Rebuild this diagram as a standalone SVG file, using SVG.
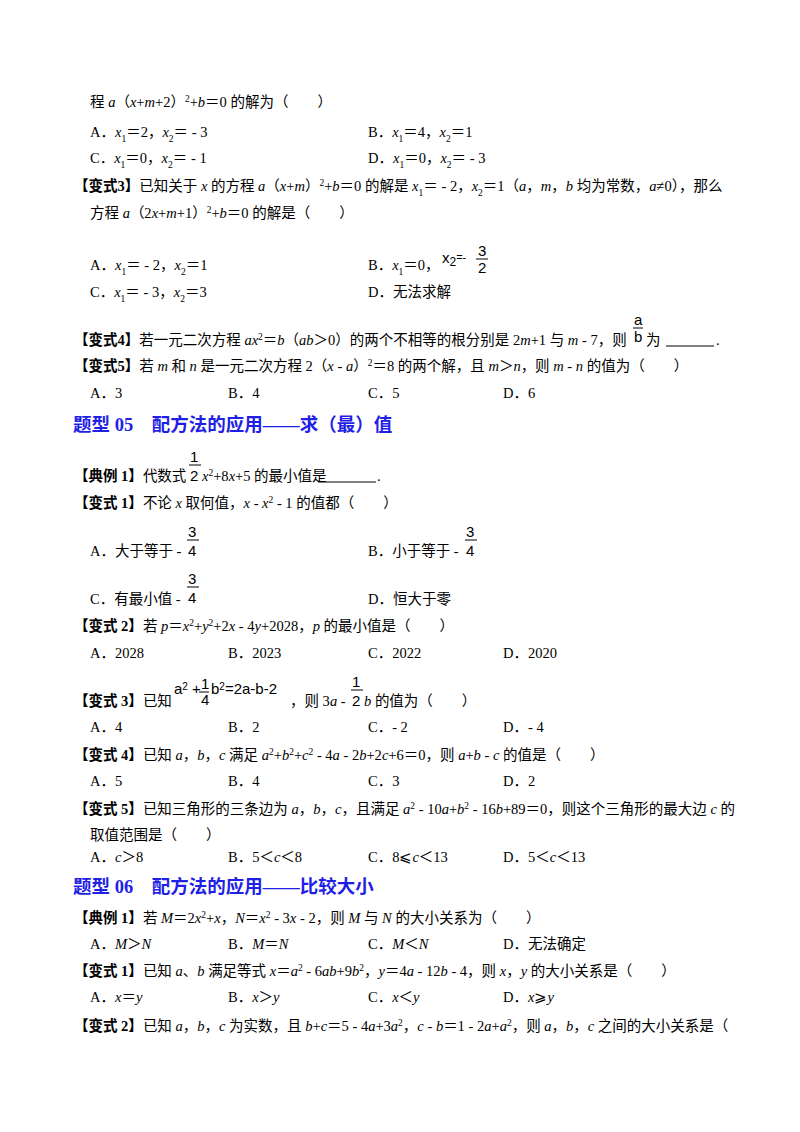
<svg xmlns="http://www.w3.org/2000/svg" width="800" height="1132" viewBox="0 0 800 1132">
<style>
text{font-family:"Liberation Serif","Noto Sans CJK SC",serif;font-size:14.5px;fill:#000}
.b{font-weight:bold}
.i{font-style:italic}
.sp{baseline-shift:super;font-size:9.5px}
.sb{baseline-shift:sub;font-size:9.5px}
.h{font-size:18.5px;font-weight:bold;fill:#1f1fe6}
.f{font-family:"Liberation Sans",sans-serif;font-size:15px}
.fl{stroke:#000;stroke-width:1}
</style>
<rect width="800" height="1132" fill="#fff"/>
<text x="90" y="107">程 <tspan class="i">a</tspan>（<tspan class="i">x</tspan>+<tspan class="i">m</tspan>+2）<tspan class="sp">2</tspan>+<tspan class="i">b</tspan>＝0 的解为（　　）</text>
<text x="90" y="137">A．<tspan class="i">x</tspan><tspan class="sb">1</tspan>＝2，<tspan class="i">x</tspan><tspan class="sb">2</tspan>＝ - 3</text>
<text x="368" y="137">B．<tspan class="i">x</tspan><tspan class="sb">1</tspan>＝4，<tspan class="i">x</tspan><tspan class="sb">2</tspan>＝1</text>
<text x="90" y="163">C．<tspan class="i">x</tspan><tspan class="sb">1</tspan>＝0，<tspan class="i">x</tspan><tspan class="sb">2</tspan>＝ - 1</text>
<text x="368" y="163">D．<tspan class="i">x</tspan><tspan class="sb">1</tspan>＝0，<tspan class="i">x</tspan><tspan class="sb">2</tspan>＝ - 3</text>
<text x="74" y="191"><tspan class="b">【变式3】</tspan>已知关于 <tspan class="i">x</tspan> 的方程 <tspan class="i">a</tspan>（<tspan class="i">x</tspan>+<tspan class="i">m</tspan>）<tspan class="sp">2</tspan>+<tspan class="i">b</tspan>＝0 的解是 <tspan class="i">x</tspan><tspan class="sb">1</tspan>＝ - 2，<tspan class="i">x</tspan><tspan class="sb">2</tspan>＝1（<tspan class="i">a</tspan>，<tspan class="i">m</tspan>，<tspan class="i">b</tspan> 均为常数，<tspan class="i">a</tspan>≠0），那么</text>
<text x="90" y="218">方程 <tspan class="i">a</tspan>（2<tspan class="i">x</tspan>+<tspan class="i">m</tspan>+1）<tspan class="sp">2</tspan>+<tspan class="i">b</tspan>＝0 的解是（　　）</text>
<text x="90" y="270">A．<tspan class="i">x</tspan><tspan class="sb">1</tspan>＝ - 2，<tspan class="i">x</tspan><tspan class="sb">2</tspan>＝1</text>
<text x="368" y="270">B．<tspan class="i">x</tspan><tspan class="sb">1</tspan>＝0，</text>
<text class="f" x="442" y="263" font-size="14">x<tspan font-size="12" dy="3">2</tspan><tspan dy="-5" font-size="11">=-</tspan></text>
<text class="f" x="478" y="256">3</text><line class="fl" x1="476" y1="259" x2="488" y2="259"/><text class="f" x="478" y="273">2</text>
<text x="90" y="297">C．<tspan class="i">x</tspan><tspan class="sb">1</tspan>＝ - 3，<tspan class="i">x</tspan><tspan class="sb">2</tspan>＝3</text>
<text x="368" y="297">D．无法求解</text>
<text x="74" y="345"><tspan class="b">【变式4】</tspan>若一元二次方程 <tspan class="i">ax</tspan><tspan class="sp">2</tspan>＝<tspan class="i">b</tspan>（<tspan class="i">ab</tspan>＞0）的两个不相等的根分别是 2<tspan class="i">m</tspan>+1 与 <tspan class="i">m</tspan> - 7，则</text>
<text class="f" x="634" y="325" font-size="12">a</text><line class="fl" x1="633" y1="328" x2="643" y2="328"/><text class="f" x="634" y="342" font-size="12">b</text>
<text x="646" y="345">为</text><line class="fl" x1="666" y1="346" x2="714" y2="346"/><text x="716" y="345">.</text>
<text x="74" y="371"><tspan class="b">【变式5】</tspan>若 <tspan class="i">m</tspan> 和 <tspan class="i">n</tspan> 是一元二次方程 2（<tspan class="i">x</tspan> - <tspan class="i">a</tspan>）<tspan class="sp">2</tspan>＝8 的两个解，且 <tspan class="i">m</tspan>＞<tspan class="i">n</tspan>，则 <tspan class="i">m</tspan> - <tspan class="i">n</tspan> 的值为（　　）</text>
<text x="90" y="398">A．3</text><text x="228" y="398">B．4</text><text x="368" y="398">C．5</text><text x="503" y="398">D．6</text>
<text class="h" x="73" y="431">题型 05　配方法的应用——求（最）值</text>
<text x="74" y="481"><tspan class="b">【典例 1】</tspan>代数式</text>
<text class="f" x="190" y="462">1</text><line class="fl" x1="189" y1="465" x2="201" y2="465"/><text class="f" x="190" y="481">2</text>
<text x="202" y="481"><tspan class="i">x</tspan><tspan class="sp">2</tspan>+8<tspan class="i">x</tspan>+5 的最小值是</text><line class="fl" x1="318" y1="482" x2="376" y2="482"/><text x="377" y="481">.</text>
<text x="74" y="508"><tspan class="b">【变式 1】</tspan>不论 <tspan class="i">x</tspan> 取何值，<tspan class="i">x</tspan> - <tspan class="i">x</tspan><tspan class="sp">2</tspan> - 1 的值都（　　）</text>
<text x="90" y="556">A．大于等于 -</text>
<text class="f" x="188" y="537">3</text><line class="fl" x1="187" y1="540" x2="199" y2="540"/><text class="f" x="188" y="556">4</text>
<text x="368" y="556">B．小于等于 -</text>
<text class="f" x="466" y="537">3</text><line class="fl" x1="465" y1="540" x2="477" y2="540"/><text class="f" x="466" y="556">4</text>
<text x="90" y="604">C．有最小值 -</text>
<text class="f" x="188" y="584">3</text><line class="fl" x1="187" y1="587" x2="199" y2="587"/><text class="f" x="188" y="603">4</text>
<text x="368" y="604">D．恒大于零</text>
<text x="74" y="631"><tspan class="b">【变式 2】</tspan>若 <tspan class="i">p</tspan>＝<tspan class="i">x</tspan><tspan class="sp">2</tspan>+<tspan class="i">y</tspan><tspan class="sp">2</tspan>+2<tspan class="i">x</tspan> - 4<tspan class="i">y</tspan>+2028，<tspan class="i">p</tspan> 的最小值是（　　）</text>
<text x="90" y="658">A．2028</text><text x="228" y="658">B．2023</text><text x="368" y="658">C．2022</text><text x="503" y="658">D．2020</text>
<text x="74" y="706"><tspan class="b">【变式 3】</tspan>已知</text>
<text class="f" x="174" y="694" font-size="13">a<tspan font-size="10" dy="-4">2</tspan><tspan dy="4"> +</tspan></text>
<text class="f" x="201" y="689" font-size="14">1</text><line class="fl" x1="199" y1="692" x2="209" y2="692"/><text class="f" x="201" y="705" font-size="13">4</text>
<text class="f" x="211" y="694" font-size="13">b<tspan font-size="10" dy="-4">2</tspan><tspan dy="4">=2a-b-2</tspan></text>
<text x="290" y="706">，则 3<tspan class="i">a</tspan> -</text>
<text class="f" x="352" y="687">1</text><line class="fl" x1="351" y1="690" x2="363" y2="690"/><text class="f" x="352" y="706">2</text>
<text x="364" y="706"><tspan class="i">b</tspan> 的值为（　　）</text>
<text x="90" y="732">A．4</text><text x="228" y="732">B．2</text><text x="368" y="732">C．- 2</text><text x="503" y="732">D．- 4</text>
<text x="74" y="760"><tspan class="b">【变式 4】</tspan>已知 <tspan class="i">a</tspan>，<tspan class="i">b</tspan>，<tspan class="i">c</tspan> 满足 <tspan class="i">a</tspan><tspan class="sp">2</tspan>+<tspan class="i">b</tspan><tspan class="sp">2</tspan>+<tspan class="i">c</tspan><tspan class="sp">2</tspan> - 4<tspan class="i">a</tspan> - 2<tspan class="i">b</tspan>+2<tspan class="i">c</tspan>+6＝0，则 <tspan class="i">a</tspan>+<tspan class="i">b</tspan> - <tspan class="i">c</tspan> 的值是（　　）</text>
<text x="90" y="786">A．5</text><text x="228" y="786">B．4</text><text x="368" y="786">C．3</text><text x="503" y="786">D．2</text>
<text x="74" y="814"><tspan class="b">【变式 5】</tspan>已知三角形的三条边为 <tspan class="i">a</tspan>，<tspan class="i">b</tspan>，<tspan class="i">c</tspan>，且满足 <tspan class="i">a</tspan><tspan class="sp">2</tspan> - 10<tspan class="i">a</tspan>+<tspan class="i">b</tspan><tspan class="sp">2</tspan> - 16<tspan class="i">b</tspan>+89＝0，则这个三角形的最大边 <tspan class="i">c</tspan> 的</text>
<text x="90" y="840">取值范围是（　　）</text>
<text x="90" y="862">A．<tspan class="i">c</tspan>＞8</text><text x="228" y="862">B．5＜<tspan class="i">c</tspan>＜8</text><text x="368" y="862">C．8⩽<tspan class="i">c</tspan>＜13</text><text x="503" y="862">D．5＜<tspan class="i">c</tspan>＜13</text>
<text class="h" x="73" y="893">题型 06　配方法的应用——比较大小</text>
<text x="74" y="923"><tspan class="b">【典例 1】</tspan>若 <tspan class="i">M</tspan>＝2<tspan class="i">x</tspan><tspan class="sp">2</tspan>+<tspan class="i">x</tspan>，<tspan class="i">N</tspan>＝<tspan class="i">x</tspan><tspan class="sp">2</tspan> - 3<tspan class="i">x</tspan> - 2，则 <tspan class="i">M</tspan> 与 <tspan class="i">N</tspan> 的大小关系为（　　）</text>
<text x="90" y="949">A．<tspan class="i">M</tspan>＞<tspan class="i">N</tspan></text><text x="228" y="949">B．<tspan class="i">M</tspan>＝<tspan class="i">N</tspan></text><text x="368" y="949">C．<tspan class="i">M</tspan>＜<tspan class="i">N</tspan></text><text x="503" y="949">D．无法确定</text>
<text x="74" y="976"><tspan class="b">【变式 1】</tspan>已知 <tspan class="i">a</tspan>、<tspan class="i">b</tspan> 满足等式 <tspan class="i">x</tspan>＝<tspan class="i">a</tspan><tspan class="sp">2</tspan> - 6<tspan class="i">ab</tspan>+9<tspan class="i">b</tspan><tspan class="sp">2</tspan>，<tspan class="i">y</tspan>＝4<tspan class="i">a</tspan> - 12<tspan class="i">b</tspan> - 4，则 <tspan class="i">x</tspan>，<tspan class="i">y</tspan> 的大小关系是（　　）</text>
<text x="90" y="1002">A．<tspan class="i">x</tspan>＝<tspan class="i">y</tspan></text><text x="228" y="1002">B．<tspan class="i">x</tspan>＞<tspan class="i">y</tspan></text><text x="368" y="1002">C．<tspan class="i">x</tspan>＜<tspan class="i">y</tspan></text><text x="503" y="1002">D．<tspan class="i">x</tspan>⩾<tspan class="i">y</tspan></text>
<text x="74" y="1031"><tspan class="b">【变式 2】</tspan>已知 <tspan class="i">a</tspan>，<tspan class="i">b</tspan>，<tspan class="i">c</tspan> 为实数，且 <tspan class="i">b</tspan>+<tspan class="i">c</tspan>＝5 - 4<tspan class="i">a</tspan>+3<tspan class="i">a</tspan><tspan class="sp">2</tspan>，<tspan class="i">c</tspan> - <tspan class="i">b</tspan>＝1 - 2<tspan class="i">a</tspan>+<tspan class="i">a</tspan><tspan class="sp">2</tspan>，则 <tspan class="i">a</tspan>，<tspan class="i">b</tspan>，<tspan class="i">c</tspan> 之间的大小关系是（</text>
</svg>
